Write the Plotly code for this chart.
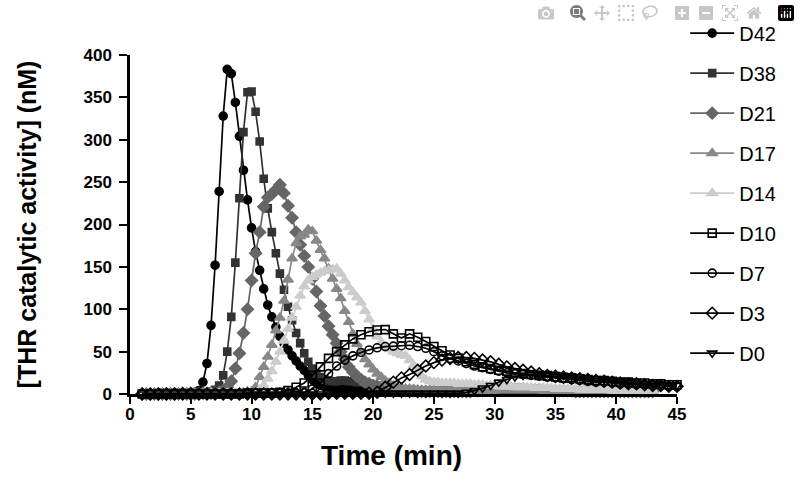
import numpy as np
import plotly.graph_objects as go

# sampling grids (min): filled-marker runs every 20 s, open-marker runs every 40 s
t_fast = np.round(np.arange(3, 136) / 3, 3)
t_slow = np.round(np.arange(3, 136, 2) / 3, 3)

# [THR catalytic activity] (nM)
d42 = [0, 0, 0,  0, 0, 1,  0, 1, 0,  1, 0, 1,  1, 2, 4,
       14, 36, 81,  152, 239, 328,  383, 378, 344,  304, 264, 229,  196, 168, 146,
       124, 105, 91,  79, 68, 60,  52, 45, 39,  33, 28, 22,  17, 13, 10,
       9, 8, 8,  7, 7, 6,  6, 6, 5,  5, 5, 4,  4, 4, 4,
       4, 3, 3,  3, 3, 3,  3, 3, 3,  3, 3, 3,  3, 3, 3,
       3, 3, 3,  3, 3, 3,  3, 3, 3,  3, 3, 3,  3, 4, 4,
       4, 4, 4,  4, 4, 4,  4, 4, 4,  4, 4, 3,  3, 3, 3,
       3, 3, 3,  3, 3, 3,  3, 3, 3,  3, 3, 3,  3, 3, 3,
       3, 3, 3,  2, 2, 2,  2]
d38 = [0, 0, 0,  0, 1, 0,  0, 0, 1,  0, 1, 1,  1, 1, 1,
       2, 2, 3,  5, 10, 22,  50, 91, 155,  231, 309, 356,  357, 333, 298,
       254, 219, 191,  166, 142, 123,  103, 87, 72,  60, 48, 38,  30, 24, 20,
       17, 16, 15,  15, 16, 16,  15, 15, 14,  14, 13, 12,  11, 10, 9,
       8, 7, 6,  6, 5, 5,  4, 4, 4,  3, 3, 3,  3, 3, 3,
       3, 3, 3,  3, 3, 3,  3, 3, 4,  4, 5, 5,  6, 6, 7,
       7, 7, 7,  7, 6, 6,  6, 6, 5,  5, 5, 5,  4, 4, 4,
       4, 4, 4,  4, 3, 3,  3, 3, 3,  3, 3, 3,  3, 3, 3,
       3, 3, 3,  3, 3, 3,  3]
d21 = [0, 0, 0,  0, 0, 0,  0, 0, 0,  0, 1, 0,  1, 0, 1,
       1, 1, 1,  1, 2, 4,  8, 15, 30,  48, 72, 100,  134, 166, 191,
       221, 232, 236,  241, 247, 237,  222, 208, 191,  176, 163, 150,  136, 121, 104,
       92, 80, 70,  60, 50, 41,  32, 26, 21,  17, 14, 12,  10, 9, 8,
       7, 6, 6,  5, 5, 4,  4, 4, 3,  3, 3, 3,  3, 3, 3,
       3, 3, 3,  3, 3, 3,  3, 4, 4,  4, 5, 5,  5, 6, 6,
       6, 6, 6,  6, 6, 5,  5, 5, 5,  5, 4, 4,  4, 4, 4,
       4, 4, 3,  3, 3, 3,  3, 3, 3,  3, 3, 3,  3, 3, 3,
       3, 3, 3,  3, 3, 3,  3]
d17 = [0, 0, 0,  0, 0, 0,  0, 0, 0,  0, 0, 0,  0, 1, 0,
       0, 1, 0,  1, 0, 1,  1, 1, 1,  1, 2, 3,  3, 8, 20,
       32, 44, 58,  75, 90, 110,  135, 160, 178,  186, 188, 194,  192, 181, 170,
       160, 148, 136,  124, 113, 98,  85, 71, 59,  49, 41, 35,  29, 24, 20,
       16, 13, 10,  8, 7, 6,  6, 5, 5,  4, 4, 4,  4, 4, 4,
       4, 4, 4,  4, 4, 4,  4, 4, 4,  4, 4, 4,  4, 5, 5,
       5, 5, 5,  5, 5, 5,  5, 5, 5,  4, 4, 4,  4, 4, 4,
       4, 4, 4,  3, 3, 3,  3, 3, 3,  3, 3, 3,  3, 3, 3,
       3, 3, 3,  3, 3, 3,  3]
d14 = [0, 0, 0,  0, 0, 0,  0, 0, 0,  0, 0, 0,  0, 0, 0,
       0, 0, 1,  0, 1, 0,  1, 1, 1,  1, 1, 1,  1, 2, 5,
       10, 18, 27,  38, 50, 63,  77, 90, 103,  116, 127, 134,  138, 141, 143,
       145, 146, 147,  148, 142, 134,  126, 120, 114,  108, 98, 88,  77, 68, 61,
       56, 53, 50,  48, 46, 45,  40, 34, 27,  21, 17, 15,  14, 14, 13,
       13, 13, 13,  12, 12, 12,  12, 11, 11,  11, 10, 10,  10, 9, 9,
       9, 9, 8,  8, 8, 8,  8, 7, 7,  7, 7, 7,  6, 6, 6,
       6, 6, 6,  5, 5, 5,  5, 5, 5,  5, 5, 4,  4, 4, 4,
       4, 4, 4,  4, 4, 4,  4]
d10 = [0, 0, 0,  0, 0, 0,  0, 0, 0,  0, 0, 0,  0, 1, 1,
       1, 1, 2,  4, 8, 13,  22, 32, 42,  50, 58, 65,  70, 73.5, 75.5,
       76, 71, 66,  71, 67, 62,  56, 51, 46,  42, 38, 35,  32, 30, 28,
       27, 25, 24,  23, 22, 21,  20, 19, 19,  18, 17, 16,  16, 15, 14,
       14, 13, 13,  12, 12, 11,  11]
d7 = [0, 0, 0,  0, 0, 0,  0, 0, 0,  0, 0, 0,  0, 0, 1,
      1, 1, 1,  1, 1, 2,  6, 13, 24,  33, 40, 45,  49, 52, 54.5,
      56, 56.5, 57,  57.5, 56, 54,  50, 45, 42,  39, 36, 33,  31, 29, 27,
      25, 24, 23,  22, 21, 20,  19, 18, 17,  16, 15, 14,  14, 13, 12,
      12, 11, 11,  10, 10, 9,  9]
d3 = [0, 0, 0,  0, 0, 0,  0, 0, 0,  0, 0, 0,  0, 0, 0,
      0, 0, 0,  0, 0, 0,  0, 0, 1,  1, 1, 1,  1, 1, 2,
      8, 14, 19,  23, 28, 33,  37, 40, 42,  43, 43, 42,  40, 38, 35,
      32, 30, 28,  26, 24, 22,  21, 20, 19,  18, 17, 16,  15, 14, 13,
      12, 12, 11,  10, 10, 9,  9]
d0 = [0, 0, 0,  0, 0, 0,  0, 0, 0,  0, 0, 0,  0, 0, 0,
      0, 0, 0,  0, 0, 0,  0, 0, 0,  0, 0, 0,  0, 0, 1,
      1, 1, 1,  1, 1, 1,  1, 1, 1,  1, 2, 4,  7, 10, 14,
      17, 20, 22,  23, 24, 24,  23, 22, 21,  20, 19, 18,  17, 16, 15,
      14, 13, 12,  12, 11, 10,  10]

x_ticks = [0, 5, 10, 15, 20, 25, 30, 35, 40, 45]
y_ticks = [0, 50, 100, 150, 200, 250, 300, 350, 400]

series = [
    ("D42", t_fast, d42, "circle", "#000000", 8),
    ("D38", t_fast, d38, "square", "#333333", 7),
    ("D21", t_fast, d21, "diamond", "#666666", 9),
    ("D17", t_fast, d17, "triangle-up", "#888888", 9),
    ("D14", t_fast, d14, "triangle-up", "#cccccc", 9),
    ("D10", t_slow, d10, "square-open", "#000000", 8),
    ("D7", t_slow, d7, "circle-open", "#000000", 8),
    ("D3", t_slow, d3, "diamond-open", "#000000", 9),
    ("D0", t_slow, d0, "triangle-down-open", "#000000", 8),
]

fig = go.Figure()
for name, t, y, sym, col, size in series:
    fig.add_trace(go.Scatter(
        x=t, y=y, name=name, legendgroup=name, mode="lines+markers",
        line=dict(color=col, width=1.7),
        marker=dict(symbol=sym, color=col, size=size, line=dict(color=col, width=1.6)),
        cliponaxis=False))

fig.update_layout(
    width=800, height=482,
    margin=dict(l=130, r=123, t=55, b=88),
    paper_bgcolor="white", plot_bgcolor="white",
    font=dict(family="Liberation Sans, Arial, sans-serif", color="black"),
    legend=dict(x=1.015, y=1.122, xanchor="left", yanchor="top", maxheight=470,
                font=dict(size=20), tracegroupgap=11, itemwidth=44),
    showlegend=True)

fig.add_annotation(
    text="Time (min)", xref="paper", yref="paper", x=0.478, y=-0.18,
    xanchor="center", yanchor="middle", showarrow=False,
    font=dict(size=28, weight="bold"))

fig.update_xaxes(
    range=[0, 45], tickvals=x_ticks, showgrid=False, zeroline=False,
    showline=True, linecolor="black", linewidth=2.5,
    ticks="outside", ticklen=7, tickwidth=2, tickcolor="black",
    tickfont=dict(size=17, weight="bold"), ticklabelstandoff=-4)
fig.update_yaxes(
    range=[0, 400], tickvals=y_ticks, showgrid=False, zeroline=False,
    showline=True, linecolor="black", linewidth=2.5,
    ticks="outside", ticklen=8, tickwidth=2, tickcolor="black",
    tickfont=dict(size=17, weight="bold"), ticklabelstandoff=4,
    title=dict(text="[THR catalytic activity] (nM)", font=dict(size=25, weight="bold"), standoff=40))

# drop the page's default body margin so the figure sits at the window corner
fig.write_html("out.html", post_script="document.body.style.margin = '0';")
